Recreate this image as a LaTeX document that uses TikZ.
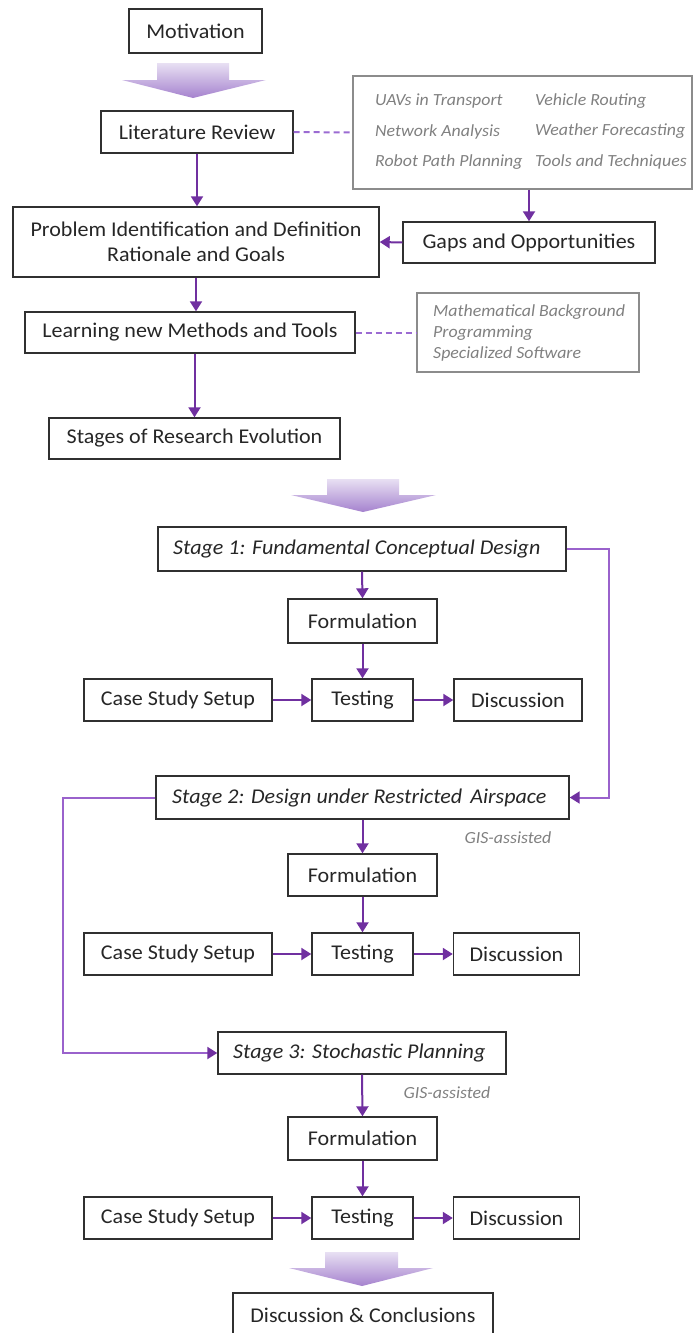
\documentclass[tikz,border=0pt]{standalone}
\usepackage{fontspec}
\setmainfont{Carlito}[FakeStretch=1.05]
\usetikzlibrary{arrows.meta,positioning}

\definecolor{vio}{HTML}{7030A0}
\definecolor{lvio}{HTML}{9A62CC}
\definecolor{dvio}{HTML}{9B6BD2}
\definecolor{boxline}{HTML}{303030}
\definecolor{greytxt}{HTML}{808080}
\definecolor{greybox}{HTML}{8C8C8C}
\definecolor{shtop}{HTML}{E8E0F3}
\definecolor{shbot}{HTML}{A582CE}

\tikzset{
  stepbox/.style={draw=boxline, line width=1.4pt, inner sep=0pt, font=\fontsize{21}{25}\selectfont, text=black!85},
  stagebox/.style={stepbox},
  stagetext/.style={inner sep=0pt, anchor=west, font=\fontsize{21}{25}\selectfont\itshape, text=black!85},
  notebox/.style={draw=greybox, line width=1.4pt, inner sep=0pt},
  note/.style={inner sep=0pt, anchor=west, text=greytxt, font=\fontsize{17}{20}\selectfont\itshape},
  flow/.style={draw=vio, line width=2pt, -{Triangle[length=10pt,width=12pt]}},
  loop/.style={draw=lvio, line width=2pt, -{Triangle[length=10pt,width=12pt,color=vio]}},
  link/.style={draw=dvio, line width=2pt, dash pattern=on 6pt off 4pt},
  bigarrow/.style={top color=shtop, bottom color=shbot, draw=none}
}

\begin{document}
\begin{tikzpicture}[x=1pt,y=-1pt]
\useasboundingbox (0,0) rectangle (694,1333);
\clip (0,0) rectangle (694,1333);

% ---------- preparation phase ----------
\node[stepbox, minimum width=133pt, minimum height=44pt] (mot) at (195.5,31) {Motivation};
\path[bigarrow] (157,63) -- (229,63) -- (229,80) -- (266,80) -- (193,98) -- (122,80) -- (157,80) -- cycle;

\node[stepbox, minimum width=192pt, minimum height=42pt] (lit) at (197,132) {Literature Review};

\node[notebox, minimum width=339pt, minimum height=113pt] (topics) at (522.5,132.5) {};
\node[note] (t11) at (375,101) {UAVs in Transport};
\node[note] (t12) at (535,101) {Vehicle Routing};
\node[note] (t21) at (375,131.5) {Network Analysis};
\node[note] (t22) at (535,131.5) {Weather Forecasting};
\node[note] (t31) at (375,162) {Robot Path Planning};
\node[note] (t32) at (535,162) {Tools and Techniques};

\node[stepbox, minimum width=252pt, minimum height=41pt] (gaps) at (529,242.5) {Gaps and Opportunities};

\node[stepbox, minimum width=366pt, minimum height=70pt, align=center] (prob) at (196,242)
  {Problem Identification and Definition\\[0pt]Rationale and Goals};

\node[stepbox, minimum width=330pt, minimum height=41pt] (learn) at (190,332.5) {Learning new Methods and Tools};

\node[notebox, minimum width=222pt, minimum height=79pt] (tools) at (528,332.5) {};
\node[note] (m1) at (433,312) {Mathematical Background};
\node[note] (m2) at (433,333) {Programming};
\node[note] (m3) at (433,354) {Specialized Software};

\node[stepbox, minimum width=291pt, minimum height=41pt] (stages) at (194.5,438.5) {Stages of Research Evolution};

\draw[link] (lit.east) -- (topics.west);
\draw[link] (learn.east) -- (tools.west);
\draw[flow] (lit.south) -- (lit.south |- prob.north);
\draw[flow] (gaps.north |- topics.south) -- (gaps.north);
\draw[flow] (gaps.west) -- (prob.east);
\draw[flow] (prob.south) -- (prob.south |- learn.north);
\draw[flow] (stages.north |- learn.south) -- (stages.north);

\path[bigarrow] (327,479) -- (399,479) -- (399,495) -- (436,495) -- (363,512) -- (291,495) -- (327,495) -- cycle;

% ---------- stage 1 ----------
\node[stagebox, minimum width=408pt, minimum height=44pt] (s1) at (362,549) {};
\node[stagetext] (s1t) at (173,549) {Stage 1: Fundamental Conceptual Design};
\node[stepbox, minimum width=149pt, minimum height=44pt] (f1) at (362.5,621) {Formulation};
\node[stepbox, minimum width=101pt, minimum height=42pt] (te1) at (362.5,700) {Testing};
\node[stepbox, minimum width=188pt, minimum height=42pt] (c1) at (178,700) {Case Study Setup};
\node[stepbox, minimum width=128pt, minimum height=42pt] (d1) at (518,700) {Discussion};
\draw[flow] (s1.south) -- (f1.north);
\draw[flow] (f1.south) -- (te1.north);
\draw[flow] (c1.east) -- (te1.west);
\draw[flow] (te1.east) -- (d1.west);

% ---------- stage 2 ----------
\node[stagebox, minimum width=413pt, minimum height=43pt] (s2) at (362.5,797.5) {};
\node[stagetext] (s2t) at (172,797.5) {Stage 2: Design under Restricted\hspace{8pt}Airspace};
\node[note, anchor=center] (g2) at (508,838) {GIS-assisted};
\node[stepbox, minimum width=149pt, minimum height=42pt] (f2) at (362.5,875) {Formulation};
\node[stepbox, minimum width=101pt, minimum height=42pt] (te2) at (362.5,954) {Testing};
\node[stepbox, minimum width=188pt, minimum height=42pt] (c2) at (178,954) {Case Study Setup};
\node[stepbox, minimum width=126pt, minimum height=42pt] (d2) at (516.5,954) {Discussion};
\draw[flow] (s2.south) -- (f2.north);
\draw[flow] (f2.south) -- (te2.north);
\draw[flow] (c2.east) -- (te2.west);
\draw[flow] (te2.east) -- (d2.west);

% ---------- stage 3 ----------
\node[stagebox, minimum width=288pt, minimum height=42pt] (s3) at (362,1053) {};
\node[stagetext] (s3t) at (233,1053) {Stage 3: Stochastic Planning};
\node[note, anchor=center] (g3) at (447,1093) {GIS-assisted};
\node[stepbox, minimum width=149pt, minimum height=43pt] (f3) at (362.5,1138.5) {Formulation};
\node[stepbox, minimum width=101pt, minimum height=42pt] (te3) at (362.5,1218) {Testing};
\node[stepbox, minimum width=188pt, minimum height=42pt] (c3) at (178,1218) {Case Study Setup};
\node[stepbox, minimum width=126pt, minimum height=42pt] (d3) at (516.5,1218) {Discussion};
\draw[flow] (s3.south) -- (f3.north);
\draw[flow] (f3.south) -- (te3.north);
\draw[flow] (c3.east) -- (te3.west);
\draw[flow] (te3.east) -- (d3.west);

% ---------- links between stages ----------
\coordinate (rx) at (609,0);
\coordinate (lx) at (63,0);
\draw[loop] (s1.east) -- (s1.east -| rx) -- (s2.east -| rx) -- (s2.east);
\draw[loop] (s2.west) -- (s2.west -| lx) -- (s3.west -| lx) -- (s3.west);

% ---------- conclusion ----------
\path[bigarrow] (325,1252) -- (398,1252) -- (398,1268) -- (433,1268) -- (362,1286) -- (289,1268) -- (325,1268) -- cycle;
\node[stepbox, minimum width=260pt, minimum height=44pt] (final) at (363,1315) {Discussion \& Conclusions};
\end{tikzpicture}
\end{document}
